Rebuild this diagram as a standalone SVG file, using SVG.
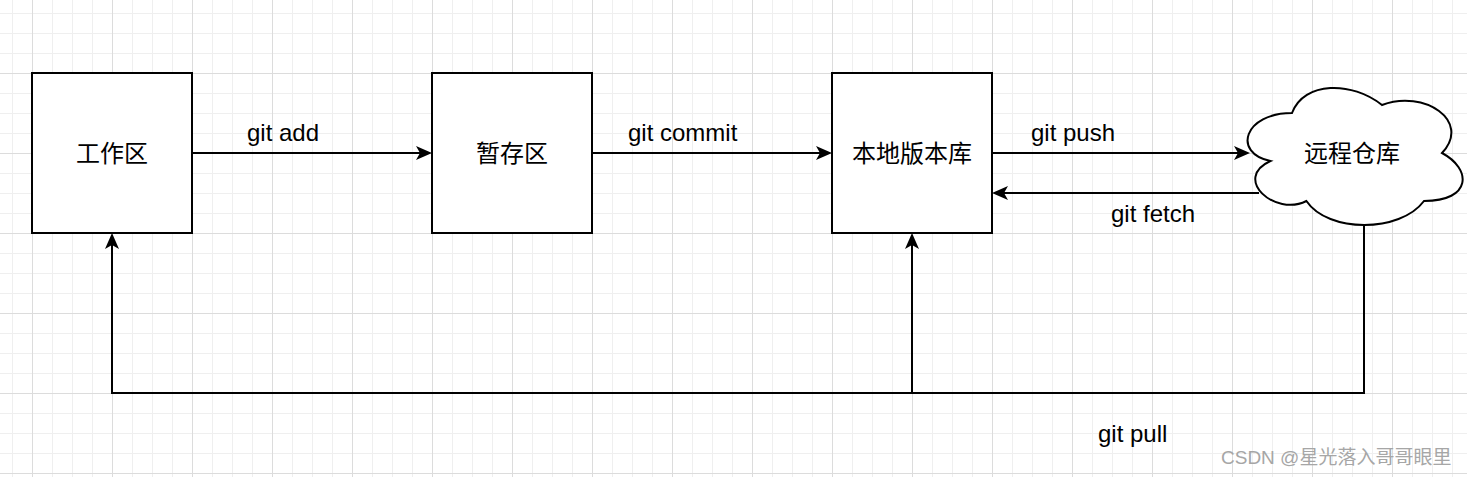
<svg xmlns="http://www.w3.org/2000/svg" width="1467" height="477" viewBox="0 0 1467 477">
  <style>
    .node { fill: #ffffff; stroke: #000000; stroke-width: 2; }
    .edge { fill: none; stroke: #000000; stroke-width: 2; marker-end: url(#arrow); }
    .lbl { font-family: "Liberation Sans", Arial, "Noto Sans CJK SC", sans-serif; font-size: 24px; fill: #000000; }
    .cn { font-family: "Noto Sans CJK SC", "Liberation Sans", sans-serif; font-size: 24px; fill: #000000; text-anchor: middle; }
    .wm { font-family: "Liberation Sans", Arial, "Noto Sans CJK SC", sans-serif; font-size: 19px; fill: #a6a6a6; }
  </style>
  <defs>
    <pattern id="minor" patternUnits="userSpaceOnUse" x="12" y="13" width="20" height="20">
      <rect x="0" y="0" width="1" height="20" fill="#efefef"/>
      <rect x="0" y="0" width="20" height="1" fill="#efefef"/>
    </pattern>
    <pattern id="major" patternUnits="userSpaceOnUse" x="32" y="73" width="80" height="80">
      <rect x="0" y="0" width="1" height="80" fill="#dcdcdc"/>
      <rect x="0" y="0" width="80" height="1" fill="#dcdcdc"/>
    </pattern>
    <marker id="arrow" markerUnits="userSpaceOnUse" viewBox="0 0 16 14" refX="4" refY="7" markerWidth="16" markerHeight="14" orient="auto">
      <path d="M16 7 L0 0 L4 7 L0 14 Z" fill="#000000"/>
    </marker>
  </defs>

  <rect x="0" y="0" width="1467" height="477" fill="#ffffff"/>
  <rect x="0" y="0" width="1467" height="477" fill="url(#minor)"/>
  <rect x="0" y="0" width="1467" height="477" fill="url(#major)"/>

  <g id="connectors">
    <path class="edge" d="M192 153 H420"/>
    <path class="edge" d="M592 153 H820"/>
    <path class="edge" d="M992 153 H1238"/>
    <path class="edge" d="M1259 193 H1004"/>
    <path class="edge" d="M1364 225 V393 H112 V245"/>
    <path class="edge" d="M912 393 V245"/>
    <text class="lbl" x="247" y="141">git add</text>
    <text class="lbl" x="628" y="141">git commit</text>
    <text class="lbl" x="1031" y="141">git push</text>
    <text class="lbl" x="1111" y="222">git fetch</text>
    <text class="lbl" x="1098" y="442">git pull</text>
  </g>

  <g id="workspace">
    <rect class="node" x="32" y="73" width="160" height="160"/>
    <text class="cn" x="112" y="162">工作区</text>
  </g>
  <g id="staging">
    <rect class="node" x="432" y="73" width="160" height="160"/>
    <text class="cn" x="512" y="162">暂存区</text>
  </g>
  <g id="local-repo">
    <rect class="node" x="832" y="73" width="160" height="160"/>
    <text class="cn" x="912" y="162">本地版本库</text>
  </g>
  <g id="remote-repo">
    <path class="node" d="M1292 113 C1244 113 1232 153 1270.4 161 C1232 178.6 1275.2 217 1306.4 201 C1328 233 1400 233 1424 201 C1472 201 1472 169 1442 153 C1472 121 1424 89 1382 105 C1352 81 1304 81 1292 113 Z"/>
    <text class="cn" x="1352" y="162">远程仓库</text>
  </g>

  <text class="wm" x="1221" y="464">CSDN @<tspan font-family="Noto Sans CJK SC, sans-serif">星光落入哥哥眼里</tspan></text>
</svg>
